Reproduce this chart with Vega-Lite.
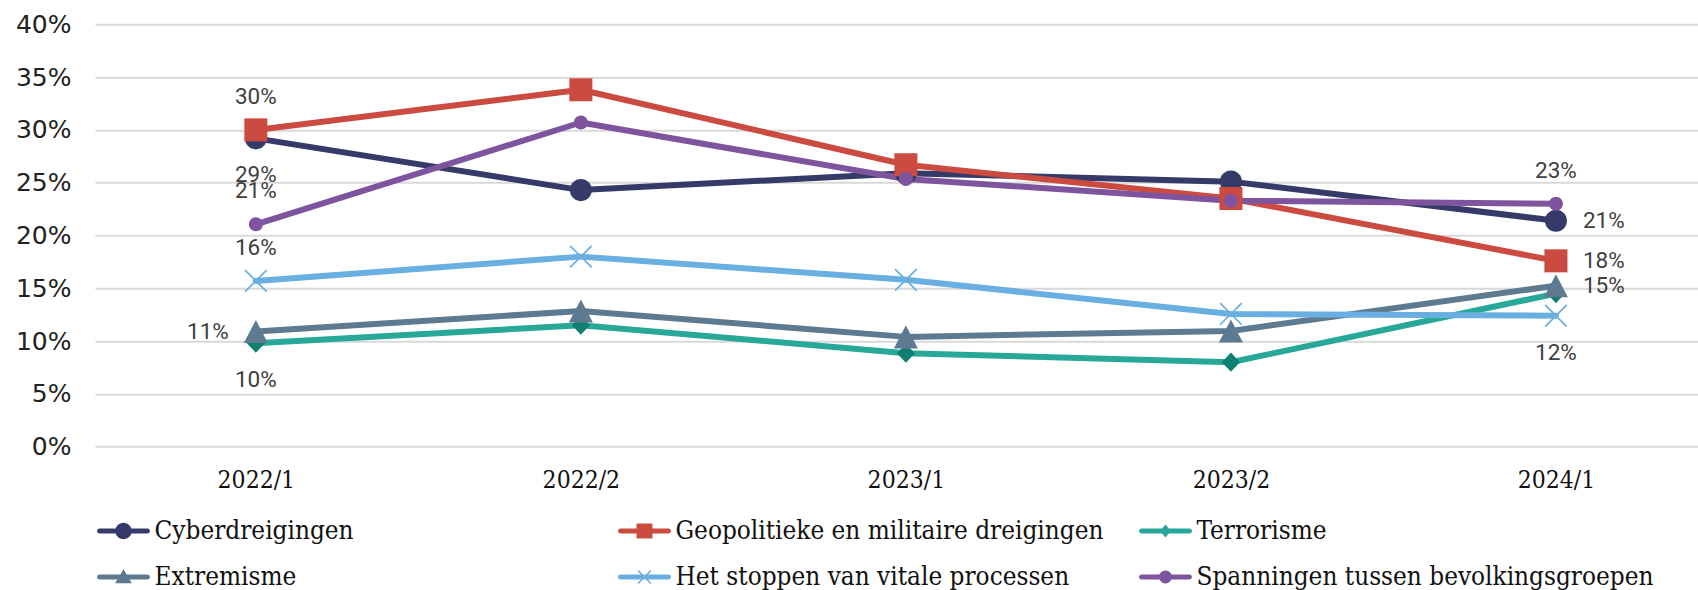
{
  "$schema": "https://vega.github.io/schema/vega-lite/v6.json",
  "width": 1603,
  "height": 422.4,
  "autosize": {"type": "none"},
  "padding": {"left": 95, "top": 24.3, "right": 0, "bottom": 143.3},
  "background": "white",
  "config": {"view": {"stroke": null}},
  "data": {
    "values": [
      {"period": "2022/1", "series": "Cyberdreigingen", "value": 0.292},
      {"period": "2022/2", "series": "Cyberdreigingen", "value": 0.243},
      {"period": "2023/1", "series": "Cyberdreigingen", "value": 0.259},
      {"period": "2023/2", "series": "Cyberdreigingen", "value": 0.251},
      {"period": "2024/1", "series": "Cyberdreigingen", "value": 0.214},
      {"period": "2022/1", "series": "Geopolitieke en militaire dreigingen", "value": 0.300},
      {"period": "2022/2", "series": "Geopolitieke en militaire dreigingen", "value": 0.338},
      {"period": "2023/1", "series": "Geopolitieke en militaire dreigingen", "value": 0.267},
      {"period": "2023/2", "series": "Geopolitieke en militaire dreigingen", "value": 0.235},
      {"period": "2024/1", "series": "Geopolitieke en militaire dreigingen", "value": 0.176},
      {"period": "2022/1", "series": "Terrorisme", "value": 0.098},
      {"period": "2022/2", "series": "Terrorisme", "value": 0.115},
      {"period": "2023/1", "series": "Terrorisme", "value": 0.0885},
      {"period": "2023/2", "series": "Terrorisme", "value": 0.080},
      {"period": "2024/1", "series": "Terrorisme", "value": 0.145},
      {"period": "2022/1", "series": "Extremisme", "value": 0.109},
      {"period": "2022/2", "series": "Extremisme", "value": 0.1285},
      {"period": "2023/1", "series": "Extremisme", "value": 0.104},
      {"period": "2023/2", "series": "Extremisme", "value": 0.1096},
      {"period": "2024/1", "series": "Extremisme", "value": 0.1525},
      {"period": "2022/1", "series": "Het stoppen van vitale processen", "value": 0.157},
      {"period": "2022/2", "series": "Het stoppen van vitale processen", "value": 0.180},
      {"period": "2023/1", "series": "Het stoppen van vitale processen", "value": 0.158},
      {"period": "2023/2", "series": "Het stoppen van vitale processen", "value": 0.1257},
      {"period": "2024/1", "series": "Het stoppen van vitale processen", "value": 0.124},
      {"period": "2022/1", "series": "Spanningen tussen bevolkingsgroepen", "value": 0.2106},
      {"period": "2022/2", "series": "Spanningen tussen bevolkingsgroepen", "value": 0.307},
      {"period": "2023/1", "series": "Spanningen tussen bevolkingsgroepen", "value": 0.2535},
      {"period": "2023/2", "series": "Spanningen tussen bevolkingsgroepen", "value": 0.233},
      {"period": "2024/1", "series": "Spanningen tussen bevolkingsgroepen", "value": 0.230}
    ]
  },
  "encoding": {
    "x": {
      "field": "period",
      "type": "ordinal",
      "scale": {"type": "point", "padding": 0.466, "align": 0.531},
      "axis": {
        "title": null,
        "labelAngle": 0,
        "ticks": false,
        "domain": false,
        "grid": false,
        "labelPadding": 22,
        "labelFont": "DejaVu Serif Condensed, DejaVu Serif",
        "labelFontSize": 24.5,
        "labelColor": "#111111"
      }
    },
    "y": {
      "field": "value",
      "type": "quantitative",
      "scale": {"domain": [0, 0.4], "nice": false},
      "axis": {
        "title": null,
        "format": ".0%",
        "values": [0, 0.05, 0.1, 0.15, 0.2, 0.25, 0.3, 0.35, 0.4],
        "ticks": false,
        "domain": false,
        "grid": true,
        "gridColor": "#d9d9d9",
        "gridWidth": 2,
        "labelPadding": 24,
        "labelFont": "DejaVu Sans",
        "labelFontSize": 25,
        "labelColor": "#222222"
      }
    }
  },
  "layer": [
    {
      "mark": {"type": "line", "strokeWidth": 6, "strokeJoin": "round", "strokeCap": "round"},
      "encoding": {
        "color": {
          "field": "series",
          "type": "nominal",
          "scale": {
            "domain": ["Cyberdreigingen", "Geopolitieke en militaire dreigingen", "Terrorisme", "Extremisme", "Het stoppen van vitale processen", "Spanningen tussen bevolkingsgroepen"],
            "range": ["#363a68", "#cc4b40", "#28a899", "#5e7a90", "#6aafe1", "#7f549e"]
          },
          "legend": {
            "title": null,
            "orient": "none",
            "legendX": 14.5,
            "legendY": 492.7,
            "direction": "horizontal",
            "columns": 3,
            "gridAlign": "all",
            "columnPadding": 6,
            "rowPadding": 19,
            "symbolSize": 784,
            "symbolStrokeWidth": 0,
            "labelFont": "DejaVu Serif Condensed, DejaVu Serif",
            "labelFontSize": 25.9,
            "labelColor": "#111111",
            "labelOffset": 17,
            "labelLimit": 800,
            "encoding": {
              "symbols": {
                "shape": {"value": {"expr": "datum.value==='Cyberdreigingen' ? 'M-1.71,-0.18H1.71A0.18,0.18 0 0,1 1.71,0.18H-1.71A0.18,0.18 0 0,1 -1.71,-0.18Z M-0.59,0A0.59,0.59 0 1,1 0.59,0A0.59,0.59 0 1,1 -0.59,0Z' : datum.value==='Geopolitieke en militaire dreigingen' ? 'M-1.71,-0.18H1.71A0.18,0.18 0 0,1 1.71,0.18H-1.71A0.18,0.18 0 0,1 -1.71,-0.18Z M-0.57,-0.54H0.57V0.54H-0.57Z' : datum.value==='Terrorisme' ? 'M-1.71,-0.18H1.71A0.18,0.18 0 0,1 1.71,0.18H-1.71A0.18,0.18 0 0,1 -1.71,-0.18Z M0,-0.46L0.39,0L0,0.46L-0.39,0Z' : datum.value==='Extremisme' ? 'M-1.71,-0.18H1.71A0.18,0.18 0 0,1 1.71,0.18H-1.71A0.18,0.18 0 0,1 -1.71,-0.18Z M0,-0.55L0.6,0.45H-0.6Z' : datum.value==='Het stoppen van vitale processen' ? 'M-1.71,-0.18H1.71A0.18,0.18 0 0,1 1.71,0.18H-1.71A0.18,0.18 0 0,1 -1.71,-0.18Z M-0.5,-0.42L-0.42,-0.5L0.5,0.42L0.42,0.5Z M-0.5,0.42L0.42,-0.5L0.5,-0.42L-0.42,0.5Z' : 'M-1.71,-0.18H1.71A0.18,0.18 0 0,1 1.71,0.18H-1.71A0.18,0.18 0 0,1 -1.71,-0.18Z M-0.46,0A0.46,0.46 0 1,1 0.46,0A0.46,0.46 0 1,1 -0.46,0Z'"}},
                "fill": {"value": {"expr": "scale('color', datum.value)"}},
                "strokeWidth": {"value": 0},
                "opacity": {"value": 1}
              }
            },
            "encode": {
              "symbols": {
                "update": {
                  "shape": {"signal": "datum.value==='Cyberdreigingen' ? 'M-1.71,-0.18H1.71A0.18,0.18 0 0,1 1.71,0.18H-1.71A0.18,0.18 0 0,1 -1.71,-0.18Z M-0.59,0A0.59,0.59 0 1,1 0.59,0A0.59,0.59 0 1,1 -0.59,0Z' : datum.value==='Geopolitieke en militaire dreigingen' ? 'M-1.71,-0.18H1.71A0.18,0.18 0 0,1 1.71,0.18H-1.71A0.18,0.18 0 0,1 -1.71,-0.18Z M-0.57,-0.54H0.57V0.54H-0.57Z' : datum.value==='Terrorisme' ? 'M-1.71,-0.18H1.71A0.18,0.18 0 0,1 1.71,0.18H-1.71A0.18,0.18 0 0,1 -1.71,-0.18Z M0,-0.46L0.39,0L0,0.46L-0.39,0Z' : datum.value==='Extremisme' ? 'M-1.71,-0.18H1.71A0.18,0.18 0 0,1 1.71,0.18H-1.71A0.18,0.18 0 0,1 -1.71,-0.18Z M0,-0.55L0.6,0.45H-0.6Z' : datum.value==='Het stoppen van vitale processen' ? 'M-1.71,-0.18H1.71A0.18,0.18 0 0,1 1.71,0.18H-1.71A0.18,0.18 0 0,1 -1.71,-0.18Z M-0.5,-0.42L-0.42,-0.5L0.5,0.42L0.42,0.5Z M-0.5,0.42L0.42,-0.5L0.5,-0.42L-0.42,0.5Z' : 'M-1.71,-0.18H1.71A0.18,0.18 0 0,1 1.71,0.18H-1.71A0.18,0.18 0 0,1 -1.71,-0.18Z M-0.46,0A0.46,0.46 0 1,1 0.46,0A0.46,0.46 0 1,1 -0.46,0Z'"},
                  "fill": {"signal": "scale('color', datum.value)"},
                  "strokeWidth": {"value": 0},
                  "opacity": {"value": 1}
                }
              }
            }
          }
        }
      }
    },
    {
      "mark": {"type": "point", "filled": true, "size": 576, "strokeWidth": 0, "opacity": 1},
      "encoding": {
        "shape": {
          "field": "series",
          "type": "nominal",
          "scale": {
            "domain": ["Cyberdreigingen", "Extremisme", "Geopolitieke en militaire dreigingen", "Het stoppen van vitale processen", "Spanningen tussen bevolkingsgroepen", "Terrorisme"],
            "range": [
              "M-0.92,0A0.92,0.92 0 1,1 0.92,0A0.92,0.92 0 1,1 -0.92,0Z",
              "M0,-0.96L1,0.96H-1Z",
              "M-0.96,-0.96H0.96V0.96H-0.96Z",
              "M-0.95,-0.85L-0.85,-0.95L0.95,0.85L0.85,0.95Z M-0.95,0.85L0.85,-0.95L0.95,-0.85L-0.85,0.95Z",
              "M-0.58,0A0.58,0.58 0 1,1 0.58,0A0.58,0.58 0 1,1 -0.58,0Z",
              "M0,-0.8L0.75,0L0,0.8L-0.75,0Z"
            ]
          },
          "legend": null
        },
        "fill": {
          "field": "series",
          "type": "nominal",
          "scale": {
            "domain": ["Spanningen tussen bevolkingsgroepen", "Het stoppen van vitale processen", "Extremisme", "Terrorisme", "Geopolitieke en militaire dreigingen", "Cyberdreigingen"],
            "range": ["#7f549e", "#6aafe1", "#5e7a90", "#0f7f72", "#cc4b40", "#363a68"]
          },
          "legend": null
        }
      }
    },
    {
      "transform": [{"filter": "(datum.period==='2022/1' && (datum.series==='Geopolitieke en militaire dreigingen' || datum.series==='Spanningen tussen bevolkingsgroepen' || datum.series==='Het stoppen van vitale processen')) || (datum.period==='2024/1' && datum.series==='Spanningen tussen bevolkingsgroepen')"}],
      "mark": {"type": "text", "dy": -33, "align": "center", "baseline": "middle", "font": "Roboto", "fontSize": 22.5, "color": "#404040"},
      "encoding": {"text": {"field": "value", "type": "quantitative", "format": ".0%"}}
    },
    {
      "transform": [{"filter": "(datum.period==='2022/1' && (datum.series==='Cyberdreigingen' || datum.series==='Terrorisme')) || (datum.period==='2024/1' && datum.series==='Het stoppen van vitale processen')"}],
      "mark": {"type": "text", "dy": 37, "align": "center", "baseline": "middle", "font": "Roboto", "fontSize": 22.5, "color": "#404040"},
      "encoding": {"text": {"field": "value", "type": "quantitative", "format": ".0%"}}
    },
    {
      "transform": [{"filter": "datum.period==='2022/1' && datum.series==='Extremisme'"}],
      "mark": {"type": "text", "dx": -27, "align": "right", "baseline": "middle", "font": "Roboto", "fontSize": 22.5, "color": "#404040"},
      "encoding": {"text": {"field": "value", "type": "quantitative", "format": ".0%"}}
    },
    {
      "transform": [{"filter": "datum.period==='2024/1' && (datum.series==='Cyberdreigingen' || datum.series==='Geopolitieke en militaire dreigingen' || datum.series==='Extremisme')"}],
      "mark": {"type": "text", "dx": 27, "align": "left", "baseline": "middle", "font": "Roboto", "fontSize": 22.5, "color": "#404040"},
      "encoding": {"text": {"field": "value", "type": "quantitative", "format": ".0%"}}
    }
  ]
}
